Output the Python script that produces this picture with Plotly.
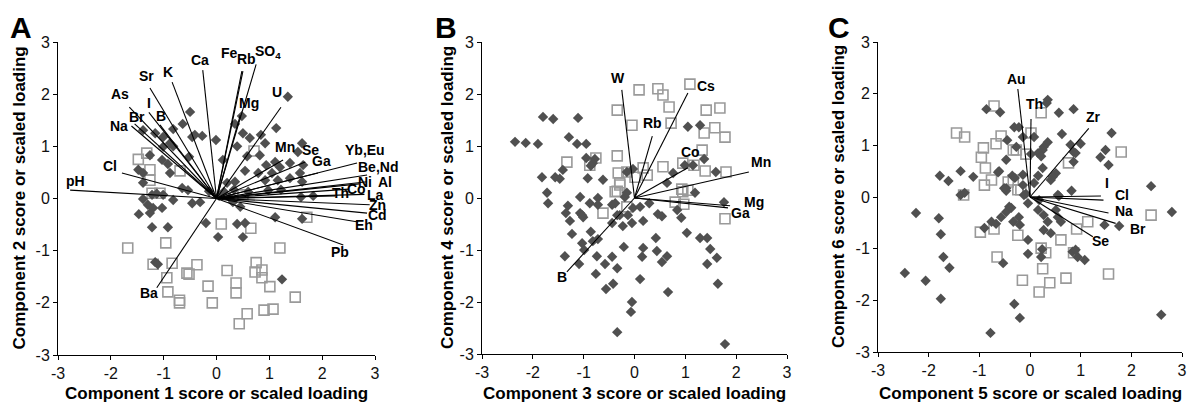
import plotly.graph_objects as go

# ---------------- Panel A (components 1 & 2) ----------------
A_dia_x = [-0.50, -0.64, -0.82, -1.39, -1.16, -1.01, -0.46, -0.27, -0.88, -0.82, -1.01, -1.26, -0.52, -1.03, -0.92, -1.48, -1.39, -0.88, -1.39, -0.65, -0.54,
           -1.39, -1.22, -1.13, -1.01, -0.82, -1.30, -1.20, -1.03, -1.47, -1.26, -1.22, -0.92, -0.46, -0.31, -1.16, -1.11,
           0.31, 0.45, -0.20, 0.39, 0.54, 0.03, 0.50, 1.11, 1.62, 1.83, 1.24,
           1.35, 0.48, 0.35, 1.13, 0.50, 0.63, 0.84, -0.41, -0.01, 0.39, 0.92, 0.82, 0.58, 0.12, 0.94, 1.11, 1.20, 1.39, 0.54, 0.79, 1.05, 1.64, 1.62, 1.54,
           0.20, 0.35, 0.92, 1.16, 1.39, 1.58, 1.62, -0.14, 0.14, 0.33, 0.60, 0.98, 1.22, 1.60, 0.05, 0.25]
A_dia_y = [1.66, 1.43, 1.33, 1.31, 1.25, 1.18, 1.18, 1.20, 1.06, 1.00, 0.99, 0.83, 0.80, 0.74, 0.66, 0.55, 0.49, 0.49, 0.30, 0.20, 0.16,
           -0.01, 0.07, 0.09, 0.07, -0.03, -0.12, -0.18, -0.18, -0.30, -0.28, -0.55, -0.55, -0.09, -0.07, -1.22, -1.26,
           -0.07, -0.16, -0.47, -0.49, -0.47, -0.74, -0.74, -0.36, -0.39, 0.05, -1.55,
           1.95, 1.58, 1.43, 1.35, 1.25, 1.16, 1.22, 1.22, 1.12, 1.00, 1.06, 0.83, 0.81, 0.74, 0.64, 0.70, 0.60, 0.68, 0.53, 0.49, 0.49, 0.64, 1.06, 0.89,
           0.30, 0.32, 0.35, 0.35, 0.39, 0.49, 0.32, 0.14, 0.13, 0.17, 0.13, 0.16, 0.17, 0.03, 0.05, 0.02]
A_sq_x = [-1.48, -1.32, -1.26, -0.69, -1.26, -1.22, -1.07,
          -1.68, -0.96, -1.20, -0.84, -0.94, -0.92, -0.70, -0.70, -0.56, -0.52, -0.37,
          0.09, 0.65, 1.71, 1.20, 0.20, 0.75, 0.73, 0.86, 0.86, 0.37, 0.37, -0.16, 1.01, 1.49, -0.08, 0.58, 0.90, 1.07, 0.43,
          0.71, 0.50]
A_sq_y = [0.75, 0.87, 0.55, 0.53, 0.35, 0.10, 0.10,
          -0.95, -0.85, -1.26, -1.24, -1.52, -1.79, -1.95, -2.00, -1.43, -1.45, -1.27,
          -0.49, -0.57, -0.36, -0.95, -1.38, -1.23, -1.41, -1.37, -1.52, -1.62, -1.81, -1.68, -1.69, -1.89, -2.00, -2.21, -2.14, -2.12, -2.40,
          0.91, 0.07]
A_vec_names = ["pH", "Cl", "Na", "Br", "As", "I", "B", "Sr", "K", "Ca", "Fe", "Rb", "SO<sub>4</sub>", "Mg", "U",
               "Mn", "Se", "Ga", "Yb,Eu", "Be,Nd", "Ni", "Al", "Co", "Th", "La", "Zn", "Cd", "Eh", "Pb", "Ba"]
A_vec_x = [-2.77, -1.79, -1.61, -1.55, -1.65, -1.28, -1.07, -1.26, -0.84, -0.26, 0.48, 0.50, 0.75, 0.45, 1.22,
           1.26, 1.68, 1.92, 2.66, 2.85, 2.70, 2.85, 2.50, 2.25, 2.80, 2.90, 2.85, 2.68, 2.40, -1.13]
A_vec_y = [0.16, 0.49, 1.39, 1.43, 1.75, 1.65, 1.41, 2.12, 2.23, 2.46, 2.44, 2.44, 2.57, 1.60, 1.75,
           0.74, 0.70, 0.49, 0.68, 0.45, 0.28, 0.32, 0.18, 0.05, 0.08, -0.12, -0.28, -0.45, -0.89, -1.71]

# ---------------- Panel B (components 3 & 4) ----------------
B_dia_x = [-2.35, -2.14, -1.90, -1.80, -1.60, -1.11, -1.29, -1.13, -0.95, -0.95, -0.78, -0.82, -0.86, -1.41, -1.82, -1.56, -1.47, -0.92, -0.62, -1.72,
           -1.70, -1.31, -1.07, -1.35, -1.07, -1.01, -1.27, -1.03, -0.88, -0.72, -0.72, -1.23, -0.86, -1.03, -0.99, -0.82, -0.72, -1.37, -1.09, -0.74,
           -0.58, -0.44, -0.34, -0.42, -0.56, -0.76, -0.34, -0.44, -0.34, -0.44,
           -0.38, -0.19, -0.29, -0.03, -0.13, -0.05, -0.23, 0.11, 0.29, 0.17, 0.46, 0.54, 0.84, 0.92, 1.03, 1.29, 1.43, 1.49, 1.62, 1.43, 1.64,
           0.42, 0.44, 0.54, 0.64, 0.17, 0.15, -0.21, 0.11, 0.66, -0.05, -0.07, 1.78, 1.19, 1.76,
           1.05, 1.29, 1.37, 0.99, 1.15, 0.76, 1.60, 0.64, -0.03, -0.15, -0.15]
B_dia_y = [1.08, 1.06, 1.04, 1.56, 1.52, 1.54, 1.17, 1.04, 1.04, 0.77, 0.75, 0.67, 0.62, 0.54, 0.40, 0.40, 0.37, 0.38, 0.35, 0.10,
           -0.10, -0.15, 0.02, -0.29, -0.29, -0.37, -0.44, -0.33, -0.10, 0.00, -0.13, -0.69, -0.65, -0.87, -1.00, -0.83, -0.79, -1.12, -1.27, -1.12,
           -1.27, -1.13, -1.35, -1.65, -1.75, -1.46, -2.58, -0.48, -0.33, -0.13,
           -0.10, 0.02, -0.33, -0.19, -0.33, -0.48, -0.54, -0.17, -0.10, -0.44, -0.31, -0.35, -0.23, -0.38, -0.67, -0.77, -0.77, -0.98, -1.15, -1.27, -1.65,
           -0.77, -1.02, -1.23, -1.12, -0.96, -1.13, -0.94, -1.56, -1.81, -2.00, -2.19, -2.81, 0.10, -0.08,
           1.37, 1.40, 0.75, 0.63, 0.63, 0.48, 0.50, 0.29, 0.56, 0.50, 0.10]
B_sq_x = [-1.33, -0.76, -0.88, -0.34, -0.34, -0.32, -0.34, -0.29, -0.62, -0.15, 0.80, 0.97, 0.95, 1.78, -0.38,
          0.09, 0.46, 0.56, 1.09, 0.68, 1.41, 1.68, -0.05, 0.72, 1.58, 1.37, 1.78, 1.33, 0.56, 0.95, 1.17, 1.39, 1.80,
          -0.15, 0.01, 0.25, 0.17, -0.29, 0.93, 1.05]
B_sq_y = [0.69, 0.77, 0.63, 1.69, 0.81, 0.48, 0.13, 0.25, -0.29, -0.17, -0.08, -0.12, 0.12, -0.40, 0.12,
          2.08, 2.10, 1.98, 2.19, 1.75, 1.69, 1.73, 1.40, 1.44, 1.35, 1.25, 1.17, 0.92, 0.60, 0.67, 0.63, 0.52, 0.50,
          0.50, 0.40, 0.44, 0.58, 0.29, 0.17, 0.15]
B_vec_names = ["W", "Rb", "Cs", "Co", "Mn", "Mg", "Ga", "B"]
B_vec_x = [-0.25, 0.35, 1.05, 1.05, 2.25, 1.88, 1.84, -1.33]
B_vec_y = [2.08, 1.19, 2.02, 0.58, 0.50, -0.15, -0.19, -1.42]

# ---------------- Panel C (components 5 & 6) ----------------
C_dia_x = [-0.86, -0.59, -0.31, -0.22, -0.45, -0.27, -0.47, -1.78, -1.61, -1.37, -1.12, -0.61, -0.35, -0.30, -0.47, -0.47, -1.37, -1.29,
           0.35, 0.33, 0.57, 0.86, 0.63, 1.61, -0.14, 0.08, 0.35, 0.27, 0.25, 0.80, 1.00, 0.86, 0.90, 1.49, 1.39, 1.55, 0.16, 0.22, 0.02, 0.86,
           0.25, 0.51, 0.45, 0.41, -0.63, -0.14, 0.16, 0.08, -0.51, -0.14, -0.08, 0.55, 0.82, 2.39,
           -2.25, -1.80, -1.76, -1.71, -1.59, -2.47, -2.06, -1.76, -0.78, -0.90, -0.76, -0.67, -0.57, -0.47, -0.41, -0.37, -0.33, -0.22, -0.20,
           -0.53, -0.31, -0.20,
           -0.04, -0.12, 0.16, 0.18, 0.27, 0.35, 0.27, 0.41, -0.04, -0.04, 0.22, 0.24, 0.55, 0.61, 0.51, 0.57, 0.84, 0.90, 0.94, 1.08, 1.47, 1.76,
           2.80, 2.59]
C_dia_y = [1.70, 1.64, 1.35, 1.35, 1.10, 0.97, 0.72, 0.41, 0.31, 0.50, 0.39, 0.50, 0.41, 0.37, 0.17, 0.12, 0.04, 0.08,
           1.88, 1.82, 1.63, 1.70, 1.22, 1.24, 1.16, 1.16, 1.06, 0.97, 0.91, 1.01, 1.03, 0.87, 0.85, 0.91, 0.77, 0.62, 0.85, 0.79, 0.83, 0.68,
           0.56, 0.46, 0.39, 0.33, 0.48, 0.43, 0.41, 0.27, 0.17, 0.23, 0.06, 0.04, 0.12, 0.21,
           -0.31, -0.41, -0.72, -1.16, -1.37, -1.47, -1.62, -1.97, -2.63, -0.60, -0.48, -0.52, -0.39, -0.29, -0.19, -0.21, -0.48, -0.39, -0.54,
           -1.28, -2.07, -2.34,
           -0.12, 0.04, -0.25, -0.06, -0.35, -0.48, -0.64, -0.70, -0.83, -1.10, -1.16, -1.01, -0.39, -0.48, -0.25, 0.02, -1.06, -1.02, -1.16, -1.22, -0.54, -0.56,
           -0.29, -2.28]
C_sq_x = [-0.71, -1.45, -1.29, -0.57, -0.67, -0.92, -0.96, -0.33, -0.88, -0.76, -0.90, -0.43, -1.31, -0.24,
          0.22, 0.02, -0.27, -0.08, 0.76, 1.80, -0.33, -0.18,
          -0.98, -0.71, -0.65, -0.24, -0.15,
          0.22, 0.31, 0.86, 0.61, 0.92, 1.14, 2.39, 0.25, 0.39, 0.71, 0.18, 1.55]
C_sq_y = [1.76, 1.24, 1.16, 1.18, 1.03, 0.95, 0.77, 0.91, 0.56, 0.33, 0.23, 0.29, 0.04, 0.14,
          1.63, 1.24, 0.91, 0.83, 0.66, 0.87, 0.33, 0.14,
          -0.68, -0.62, -1.16, -0.74, -1.61,
          -0.99, -1.08, -1.08, -0.83, -0.62, -0.48, -0.35, -1.39, -1.66, -1.57, -1.84, -1.49]
C_vec_names = ["Au", "Th", "Zr", "I", "Cl", "Na", "Br", "Se"]
C_vec_x = [-0.24, 0.02, 1.16, 1.40, 1.45, 1.55, 1.69, 1.24]
C_vec_y = [2.09, 1.51, 1.33, 0.02, -0.06, -0.31, -0.51, -0.77]

tick_vals = [-3, -2, -1, 0, 1, 2, 3]
tick_text = ["-3", "-2", "-1", "0", "1", "2", "3"]
panel_letters = ["A", "B", "C"]
x_titles = ["Component 1 score or scaled loading", "Component 3 score or scaled loading", "Component 5 score or scaled loading"]
y_titles = ["Component 2 score or scaled loading", "Component 4 score or scaled loading", "Component 6 score or scaled loading"]

# ---------------- styling / layout (pixel offsets of labels) ----------------
A_lab_off = {"pH": (5, 9), "Cl": (-12, 7), "Na": (-12, 0), "Br": (2, 7), "As": (-9, 13), "I": (0, 9), "B": (1, 9),
             "Sr": (-3, 12), "K": (-4, 10), "Ca": (-3, 10), "Fe": (-12, 18), "Rb": (4, 12), "SO<sub>4</sub>": (12, 12),
             "Mg": (9, 12), "U": (-4, 15), "Mn": (2, 13), "Se": (5, 12), "Ga": (4, 12), "Yb,Eu": (8, 13),
             "Be,Nd": (11, 8), "Ni": (6, 2), "Al": (18, 0), "Co": (8, 0), "Th": (5, 3), "La": (11, -1),
             "Zn": (8, 0), "Cd": (10, -2), "Eh": (6, -3), "Pb": (-3, -7), "Ba": (-8, -5)}
B_lab_off = {"W": (-4, 12), "Rb": (0, 13), "Cs": (18, 7), "Co": (3, 16), "Mn": (12, 10), "Mg": (24, 4),
             "Ga": (12, -5), "B": (-5, -5)}
C_lab_off = {"Au": (-1, 10), "Th": (3, 15), "Zr": (5, 11), "I": (6, 13), "Cl": (19, 5), "Na": (15, 2),
             "Br": (22, -6), "Se": (8, -4)}

FONT = "Arial, Liberation Sans, sans-serif"
DIA_COLOR = "#505050"
SQ_COLOR = "#9a9a9a"
W, H = 1188, 404


def px_x(p):
    return p / W


def px_y(p):
    return 1 - p / H


xdomains = [[px_x(58), px_x(375)], [px_x(482), px_x(787)], [px_x(878), px_x(1182)]]
ydomains = [[px_y(355), px_y(42)], [px_y(354), px_y(42)], [px_y(352), px_y(42)]]
letter_px = [21, 446, 839]
ytitle_px = [19, 447, 838]

panels = [
    (A_dia_x, A_dia_y, A_sq_x, A_sq_y, A_vec_names, A_vec_x, A_vec_y, A_lab_off),
    (B_dia_x, B_dia_y, B_sq_x, B_sq_y, B_vec_names, B_vec_x, B_vec_y, B_lab_off),
    (C_dia_x, C_dia_y, C_sq_x, C_sq_y, C_vec_names, C_vec_x, C_vec_y, C_lab_off),
]

fig = go.Figure()
annotations = []
for i, (dx, dy, sx, sy, names, vx, vy, offs) in enumerate(panels):
    suf = "" if i == 0 else str(i + 1)
    xa, ya = "x" + suf, "y" + suf
    fig.add_trace(go.Scatter(x=sx, y=sy, mode="markers", xaxis=xa, yaxis=ya,
                             marker=dict(symbol="square-open", size=10, color=SQ_COLOR, line=dict(width=1.6, color=SQ_COLOR))))
    fig.add_trace(go.Scatter(x=dx, y=dy, mode="markers", xaxis=xa, yaxis=ya,
                             marker=dict(symbol="diamond", size=8, color=DIA_COLOR, line=dict(width=0))))
    lx, ly = [], []
    for x_, y_ in zip(vx, vy):
        lx += [0, x_, None]
        ly += [0, y_, None]
    fig.add_trace(go.Scatter(x=lx, y=ly, mode="lines", xaxis=xa, yaxis=ya,
                             line=dict(color="black", width=1.1)))
    for n, x_, y_ in zip(names, vx, vy):
        ox, oy = offs[n]
        annotations.append(dict(x=x_, y=y_, xref=xa, yref=ya, text="<b>" + n + "</b>", showarrow=False,
                                xanchor="center", yanchor="middle",
                                xshift=ox, yshift=oy, font=dict(family=FONT, size=14, color="black")))
    axis_common = dict(range=[-3, 3], tickvals=tick_vals, ticktext=tick_text, showgrid=False, zeroline=False,
                       showline=True, linecolor="black", linewidth=1, ticks="outside", ticklen=4, tickcolor="black",
                       tickfont=dict(family=FONT, size=16, color="#111"), fixedrange=True,
                       automargin=False, ticklabeloverflow="allow")
    fig.update_layout(**{
        "xaxis" + suf: dict(domain=xdomains[i], anchor=ya, **axis_common),
        "yaxis" + suf: dict(domain=ydomains[i], anchor=xa, **axis_common),
    })
    cx = (xdomains[i][0] + xdomains[i][1]) / 2
    annotations.append(dict(x=cx, y=px_y(393), xref="paper", yref="paper", text="<b>" + x_titles[i] + "</b>",
                            showarrow=False, xanchor="center", yanchor="middle",
                            font=dict(family=FONT, size=17, color="black")))
    cy = (ydomains[i][0] + ydomains[i][1]) / 2
    annotations.append(dict(x=px_x(ytitle_px[i]), y=cy, xref="paper", yref="paper", text="<b>" + y_titles[i] + "</b>",
                            showarrow=False, textangle=-90, xanchor="center", yanchor="middle",
                            font=dict(family=FONT, size=17, color="black")))
    annotations.append(dict(x=px_x(letter_px[i]), y=px_y(27), xref="paper", yref="paper",
                            text="<b>" + panel_letters[i] + "</b>", showarrow=False,
                            xanchor="center", yanchor="middle",
                            font=dict(family=FONT, size=30, color="black")))

fig.update_layout(template="none", width=W, height=H,
                  margin=dict(l=0, r=0, t=0, b=0, pad=0, autoexpand=False), showlegend=False,
                  plot_bgcolor="white", paper_bgcolor="white", annotations=annotations)
fig.write_html("out.html", config={"displayModeBar": False},
               post_script="document.body.style.margin='0';document.body.style.overflow='hidden';")
